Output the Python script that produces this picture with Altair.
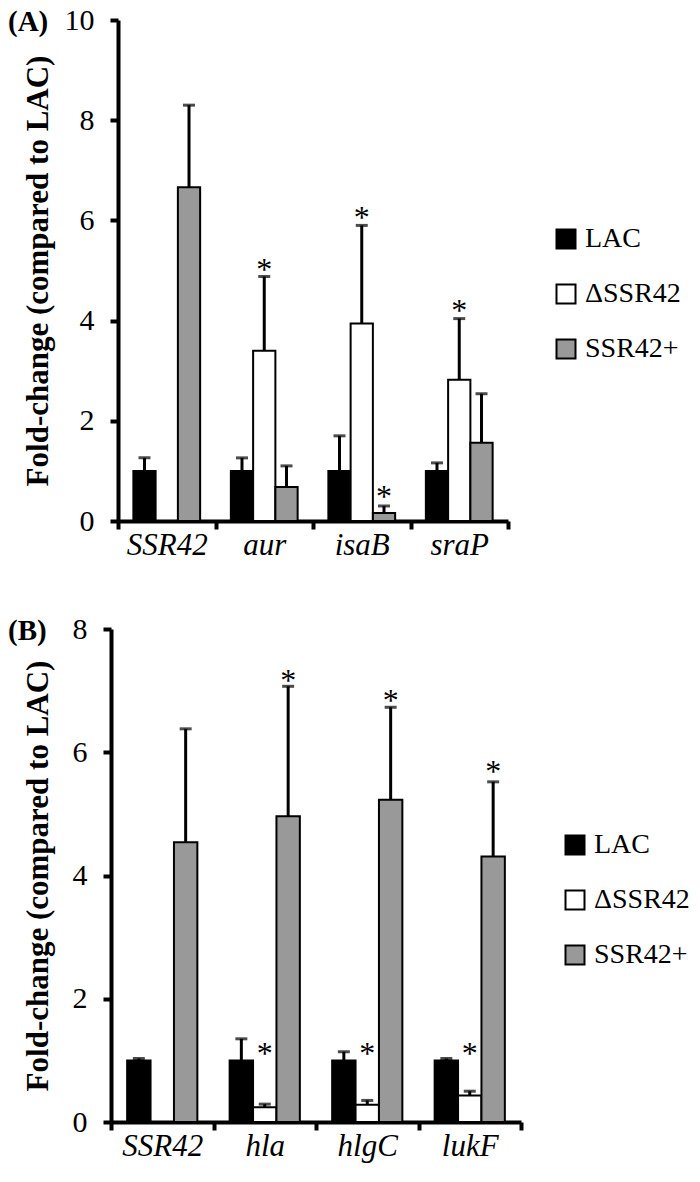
import altair as alt
import pandas as pd

FONT = "Liberation Serif"

strains = ["LAC", "ΔSSR42", "SSR42+"]
fills = ["#000000", "#ffffff", "#999999"]

# Panel A
genes_a = ["SSR42", "aur", "isaB", "sraP"]
lac_a = [1.00, 1.00, 1.00, 1.00]
lac_a_sd = [0.26, 0.26, 0.70, 0.16]
del_a = [None, 3.40, 3.94, 2.82]
del_a_sd = [None, 1.48, 1.96, 1.22]
plus_a = [6.66, 0.68, 0.16, 1.56]
plus_a_sd = [1.64, 0.42, 0.14, 0.98]
stars_a_gene = ["aur", "isaB", "isaB", "sraP"]
stars_a_strain = ["ΔSSR42", "ΔSSR42", "SSR42+", "ΔSSR42"]
stars_a_y = [5.11, 6.14, 0.58, 4.29]

# Panel B
genes_b = ["SSR42", "hla", "hlgC", "lukF"]
lac_b = [1.00, 1.00, 1.00, 1.00]
lac_b_sd = [0.03, 0.35, 0.14, 0.03]
del_b = [None, 0.24, 0.28, 0.43]
del_b_sd = [None, 0.05, 0.07, 0.07]
plus_b = [4.54, 4.96, 5.23, 4.31]
plus_b_sd = [1.84, 2.11, 1.50, 1.21]
stars_b_gene = ["hla", "hlgC", "lukF", "hla", "hlgC", "lukF"]
stars_b_strain = ["ΔSSR42", "ΔSSR42", "ΔSSR42", "SSR42+", "SSR42+", "SSR42+"]
stars_b_y = [1.19, 1.19, 1.19, 7.24, 6.92, 5.76]


def table(genes, series):
    rows = []
    for strain, (vals, sds) in zip(strains, series):
        for g, v, s in zip(genes, vals, sds):
            if v is None:
                continue
            rows.append({"gene": g, "strain": strain, "value": v, "upper": v + s})
    return pd.DataFrame(rows)


def panel(genes, series, sg, ss, sy, ymax, w, h, label, leg_x, leg_y, tpad, shift):
    df = table(genes, series)
    sdf = pd.DataFrame({"gene": sg, "strain": ss, "y": sy})
    ldf = pd.DataFrame({"label": [label]})

    x = alt.X(
        "gene:N",
        sort=genes,
        scale=alt.Scale(domain=genes, paddingInner=0, paddingOuter=0,
                        range=[-shift, w - shift]),
        axis=alt.Axis(
            title=None, labelFont=FONT, labelFontStyle="italic", labelFontSize=31,
            labelColor="black", labelAngle=0, tickBand="extent", labelPadding=1,
            tickSize=8,
        ),
    )
    xo = alt.XOffset(
        "strain:N",
        scale=alt.Scale(domain=strains, paddingInner=0, paddingOuter=0.69),
    )
    yscale = alt.Scale(domain=[0, ymax], nice=False)
    y = alt.Y(
        "value:Q",
        scale=yscale,
        axis=alt.Axis(
            values=list(range(0, ymax + 1, 2)), format="d",
            title="Fold-change (compared to LAC)",
            titleFont=FONT, titleFontWeight="bold", titleFontSize=31, titleColor="black",
            labelFont=FONT, labelFontSize=30, labelColor="black", labelPadding=16,
            tickSize=8, titlePadding=tpad, grid=False, offset=shift,
        ),
    )

    bars = alt.Chart(df).mark_bar(stroke="black", strokeWidth=2).encode(
        x=x, xOffset=xo, y=y,
        fill=alt.Fill(
            "strain:N",
            scale=alt.Scale(domain=strains, range=fills),
            legend=alt.Legend(
                title=None, orient="none", legendX=leg_x, legendY=leg_y,
                symbolType="square", symbolSize=361, symbolStrokeColor="black",
                symbolStrokeWidth=2, labelFont=FONT, labelFontSize=28,
                labelColor="black", rowPadding=27, labelOffset=5, padding=0,
            ),
        ),
    )
    err = alt.Chart(df).mark_rule(color="black", strokeWidth=3).encode(
        x=x, xOffset=xo, y=alt.Y("value:Q", scale=yscale), y2="upper:Q"
    )
    cap = alt.Chart(df).mark_tick(color="black", thickness=3, size=12).encode(
        x=x, xOffset=xo, y=alt.Y("upper:Q", scale=yscale)
    )
    stars = alt.Chart(sdf).mark_text(
        text="*", font=FONT, fontSize=32, baseline="alphabetic", dy=15, color="black"
    ).encode(x=x, xOffset=xo, y=alt.Y("y:Q", scale=yscale))
    lab = alt.Chart(ldf).mark_text(
        font=FONT, fontSize=29, fontWeight="bold", align="left", baseline="middle",
        color="black", x=-110, y=2,
    ).encode(text="label:N")

    return alt.layer(bars, err, cap, stars, lab).properties(width=w - shift, height=h)


pa = panel(genes_a, [(lac_a, lac_a_sd), (del_a, del_a_sd), (plus_a, plus_a_sd)],
           stars_a_gene, stars_a_strain, stars_a_y, 10, 390, 501, "(A)", 434, 205, 10, 0)
pb = panel(genes_b, [(lac_b, lac_b_sd), (del_b, del_b_sd), (plus_b, plus_b_sd)],
           stars_b_gene, stars_b_strain, stars_b_y, 8, 410, 493, "(B)", 443, 202, 18, 7)

chart = alt.vconcat(
    pa, pb, spacing=54,
    padding={"left": 0, "top": -3, "right": 0, "bottom": 6},
).resolve_scale(
    fill="independent", x="independent", y="independent", xOffset="independent"
).configure_view(stroke=None).configure_axis(
    domainColor="black", domainWidth=4, tickColor="black", tickWidth=4
)

chart.save("out.html", embed_options={"renderer": "svg", "actions": False})
